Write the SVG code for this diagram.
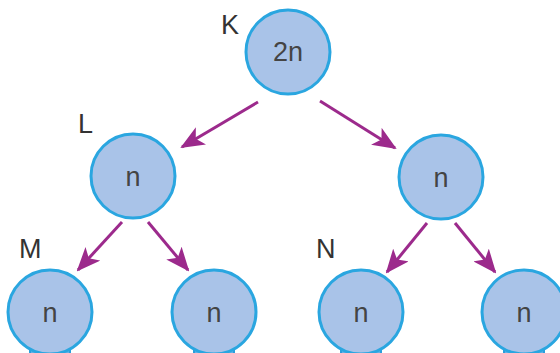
<svg xmlns="http://www.w3.org/2000/svg" width="560" height="353" viewBox="0 0 560 353">
<defs>
<style>
.node{fill:#a9c3e8;stroke:#2aa6e0;stroke-width:3}
.stub{fill:#5fb2e8;stroke:#2a9edc;stroke-width:2}
.val{font-family:"Liberation Sans",Arial,sans-serif;font-size:27px;fill:#444;text-anchor:middle}
.lbl{font-family:"Liberation Sans",Arial,sans-serif;font-size:27px;fill:#333}
.edge{stroke:#9c2a8c;stroke-width:3;fill:none;marker-end:url(#ah)}
</style>
<marker id="ah" markerUnits="userSpaceOnUse" markerWidth="24" markerHeight="20" refX="22" refY="10" orient="auto" viewBox="0 0 24 20">
<path d="M0,0 L24,10 L0,20 L6,10 Z" fill="#9c2a8c"/>
</marker>
</defs>
<rect width="560" height="353" fill="#fff"/>
<g id="connectors">
<line class="edge" x1="258" y1="102" x2="182" y2="147"/>
<line class="edge" x1="320" y1="101" x2="395" y2="148"/>
<line class="edge" x1="122" y1="222" x2="78" y2="270"/>
<line class="edge" x1="148" y1="222" x2="188" y2="270"/>
<line class="edge" x1="427" y1="223" x2="387" y2="272"/>
<line class="edge" x1="455" y1="223" x2="495" y2="272"/>
</g>
<g id="K">
<circle class="node" cx="288" cy="52" r="42"/>
<text class="val" x="288" y="61">2n</text>
<text class="lbl" x="221" y="34">K</text>
</g>
<g id="L">
<circle class="node" cx="133" cy="176" r="42"/>
<text class="val" x="133" y="186">n</text>
<text class="lbl" x="78" y="133">L</text>
</g>
<g id="R">
<circle class="node" cx="441" cy="177" r="42"/>
<text class="val" x="441" y="187">n</text>
</g>
<g id="M">
<rect class="stub" x="30" y="344" width="40" height="14" rx="4"/>
<circle class="node" cx="50" cy="312" r="42"/>
<text class="val" x="50" y="322">n</text>
<text class="lbl" x="19" y="258">M</text>
</g>
<g id="M2">
<rect class="stub" x="194" y="344" width="40" height="14" rx="4"/>
<circle class="node" cx="214" cy="312" r="42"/>
<text class="val" x="214" y="322">n</text>
</g>
<g id="N">
<rect class="stub" x="341" y="344" width="40" height="14" rx="4"/>
<circle class="node" cx="361" cy="312" r="42"/>
<text class="val" x="361" y="322">n</text>
<text class="lbl" x="316" y="258">N</text>
</g>
<g id="N2">
<rect class="stub" x="504" y="344" width="40" height="14" rx="4"/>
<circle class="node" cx="524" cy="312" r="42"/>
<text class="val" x="524" y="322">n</text>
</g>
</svg>
